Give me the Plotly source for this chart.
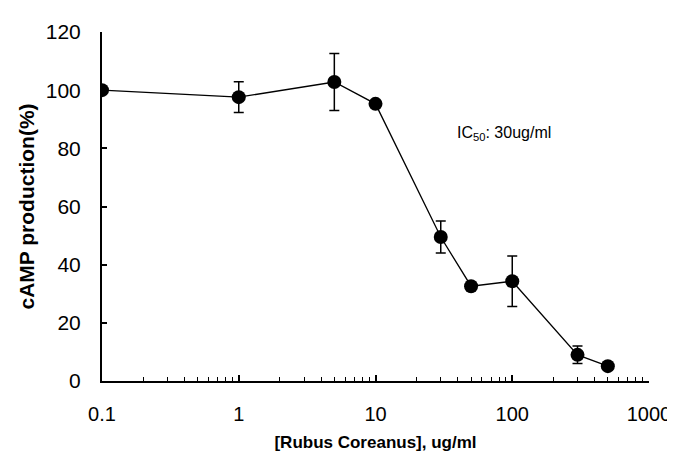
import plotly.graph_objects as go

# Data
concentration = [0.1, 1, 5, 10, 30, 50, 100, 300, 500]          # ug/ml
camp_production = [100.0, 97.6, 102.8, 95.3, 49.5, 32.6, 34.3, 9.0, 5.1]  # %
error = [0, 5.3, 9.8, 0, 5.5, 0, 8.7, 3.0, 0]

x_tick_vals = [0.1, 1, 10, 100, 1000]
x_tick_text = ["0.1", "1", "10", "100", "1000"]
y_tick_vals = [0, 20, 40, 60, 80, 100, 120]

fig = go.Figure()
fig.add_trace(go.Scatter(
    x=concentration, y=camp_production,
    mode="lines+markers",
    line=dict(color="black", width=1.3),
    marker=dict(color="black", size=14),
    error_y=dict(type="data", array=error, visible=True, color="black",
                 thickness=1.5, width=5),
    showlegend=False,
))

fig.add_annotation(
    x=0.646, xref="paper", y=85, yref="y",
    text="IC<sub>50</sub>: 30ug/ml", showarrow=False,
    xanchor="left", yanchor="middle",
    font=dict(family="Liberation Sans, Arial", size=16, color="black"),
)

fig.update_xaxes(
    type="log", range=[-1, 3],
    tickvals=x_tick_vals, ticktext=x_tick_text,
    ticks="inside", ticklen=6, tickwidth=1.5, tickcolor="black",
    minor=dict(ticks="inside", ticklen=4, tickwidth=1, tickcolor="black",
               dtick="D1", showgrid=False),
    showline=True, linecolor="black", linewidth=2,
    showgrid=False, zeroline=False,
    tickfont=dict(family="Liberation Sans, Arial", size=20, color="black"),
    ticklabelstandoff=14,
    title=dict(text="[Rubus Coreanus], ug/ml",
               font=dict(family="Liberation Sans, Arial", size=17, color="black", weight="bold"),
               standoff=12),
)
fig.update_yaxes(
    range=[0, 120], tickvals=y_tick_vals,
    ticks="inside", ticklen=5, tickwidth=1.5, tickcolor="black",
    showline=True, linecolor="black", linewidth=2,
    showgrid=False, zeroline=False,
    tickfont=dict(family="Liberation Sans, Arial", size=21, color="black"),
    ticklabelstandoff=15,
    title=dict(text="cAMP production(%)",
               font=dict(family="Liberation Sans, Arial", size=21, color="black", weight="bold"),
               standoff=5),
)
fig.update_layout(
    width=675, height=464,
    margin=dict(l=94, r=27, t=20, b=91),
    plot_bgcolor="white", paper_bgcolor="white",
)
fig.write_html("out.html")
